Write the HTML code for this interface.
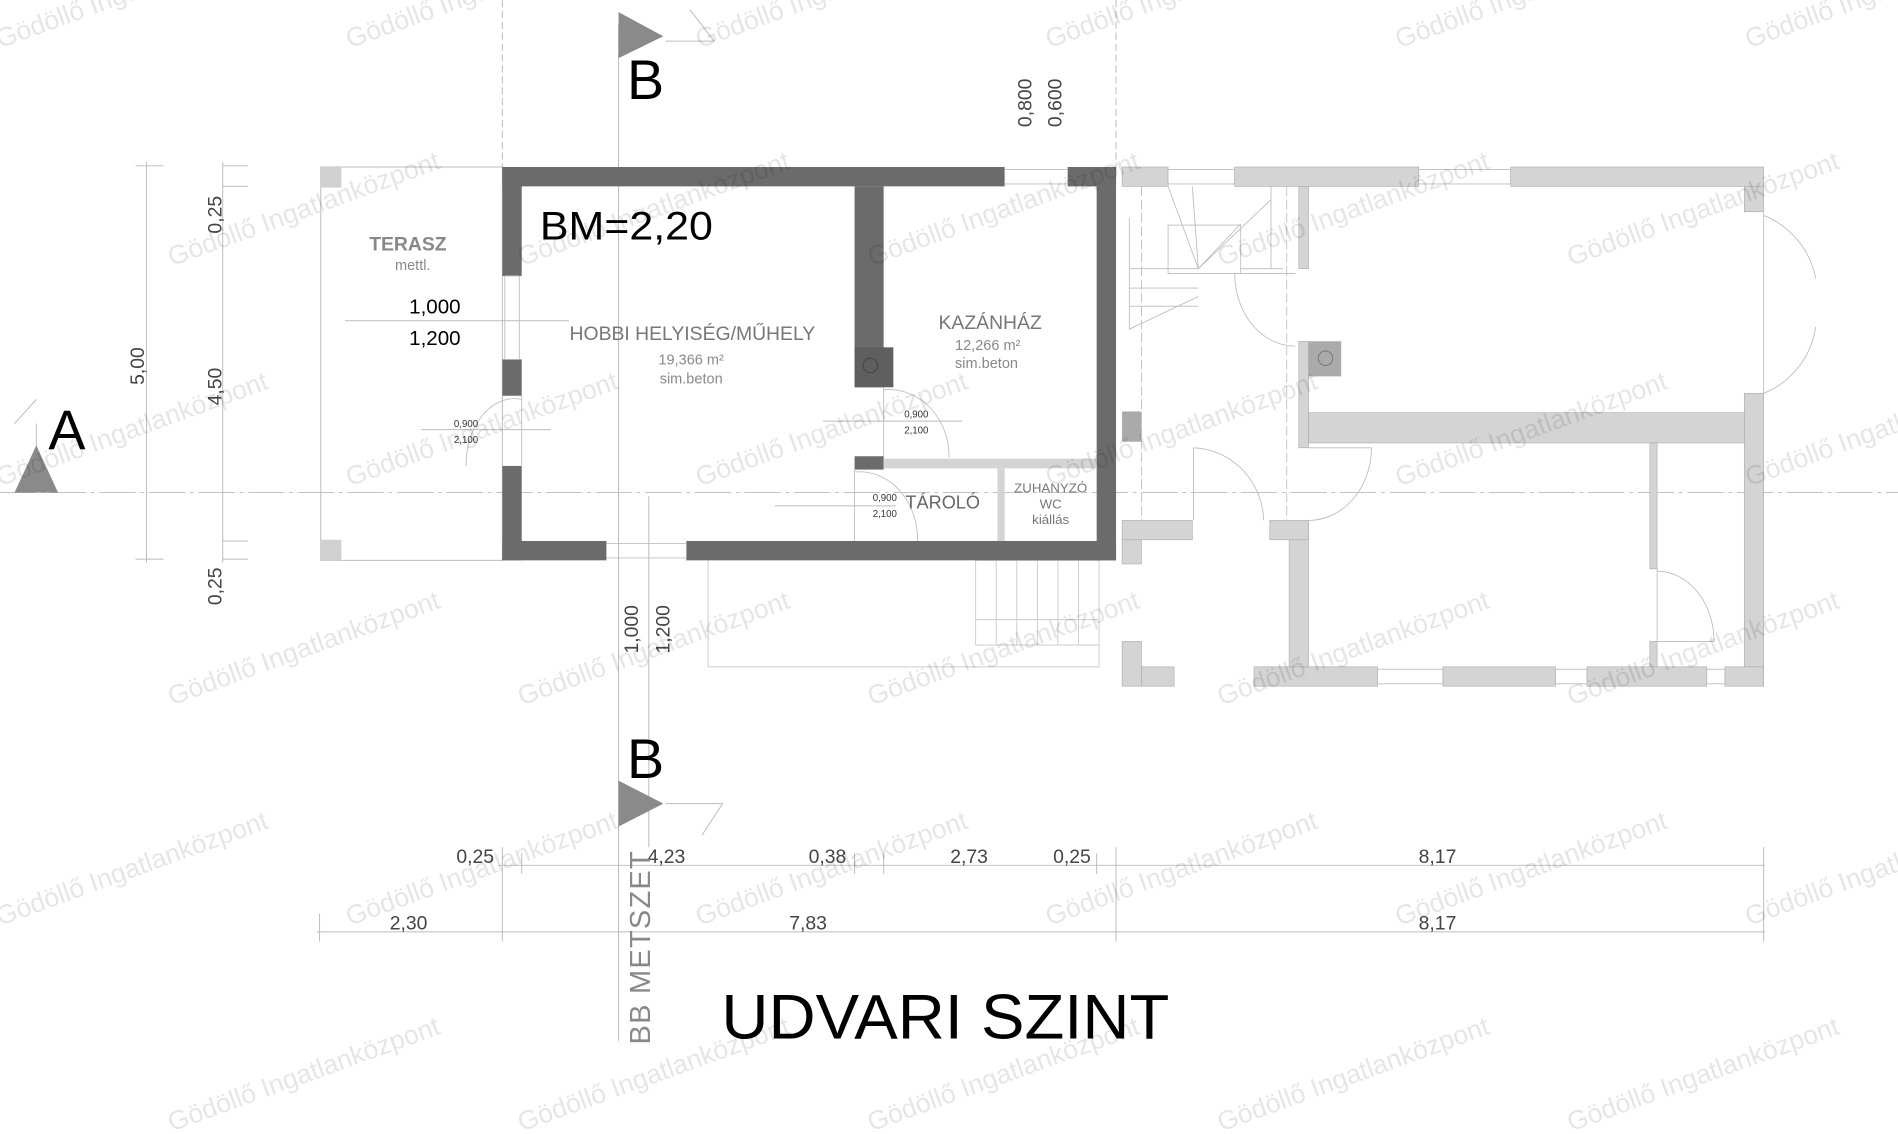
<!DOCTYPE html>
<html><head><meta charset="utf-8"><style>html,body{margin:0;padding:0;background:#fff;overflow:hidden}svg{display:block}text{font-family:"Liberation Sans",sans-serif}</style></head><body>
<svg width="1898" height="1134" viewBox="0 0 1568 937" preserveAspectRatio="none" xmlns="http://www.w3.org/2000/svg">
<rect width="1568" height="937" fill="#fff"/>
<g stroke="#bbb" stroke-width="0.8" fill="none">
<line x1="0" y1="407" x2="1568" y2="407" stroke-dasharray="30 4 3 4"/>
<line x1="415" y1="0" x2="415" y2="138" stroke-dasharray="6 3"/>
<line x1="922" y1="0" x2="922" y2="138" stroke-dasharray="6 3"/>
<line x1="511" y1="20" x2="511" y2="860"/>
<line x1="536" y1="410" x2="536" y2="700"/>
<line x1="30" y1="350" x2="30" y2="380"/>
<line x1="30" y1="330" x2="12" y2="350"/>
<line x1="550" y1="34" x2="590" y2="34"/>
<line x1="570" y1="8" x2="590" y2="34"/>
<line x1="550" y1="664" x2="597" y2="664"/>
<line x1="597" y1="664" x2="580" y2="690"/>
<line x1="121" y1="134" x2="121" y2="465"/>
<line x1="184" y1="134" x2="184" y2="465"/>
<line x1="112" y1="137" x2="135" y2="137"/><line x1="112" y1="462" x2="135" y2="462"/>
<line x1="184" y1="137" x2="205" y2="137"/><line x1="184" y1="154" x2="205" y2="154"/>
<line x1="184" y1="447" x2="205" y2="447"/><line x1="184" y1="462" x2="205" y2="462"/>
<line x1="412" y1="715" x2="1458" y2="715"/>
<line x1="262" y1="770" x2="1458" y2="770"/>
<line x1="264" y1="755" x2="264" y2="778"/><line x1="415" y1="700" x2="415" y2="778"/>
<line x1="922" y1="700" x2="922" y2="778"/><line x1="1457" y1="700" x2="1457" y2="778"/>
<line x1="431" y1="705" x2="431" y2="722"/><line x1="706" y1="705" x2="706" y2="722"/>
<line x1="730" y1="705" x2="730" y2="722"/><line x1="906" y1="705" x2="906" y2="722"/>
<line x1="285" y1="265" x2="470" y2="265"/>
<line x1="348" y1="355" x2="455" y2="355"/>
<line x1="680" y1="348" x2="795" y2="348"/>
<line x1="640" y1="418" x2="740" y2="418"/>
</g>
<rect x="265" y="138" width="150" height="325" fill="none" stroke="#bbb" stroke-width="0.8"/>
<rect x="265" y="138" width="17" height="17" fill="#d0d0d0"/>
<rect x="265" y="446" width="17" height="17" fill="#d0d0d0"/>
<g stroke="#ccc" stroke-width="0.8" fill="none">
<rect x="806" y="463" width="102" height="70"/>
<line x1="823" y1="463" x2="823" y2="533"/><line x1="840" y1="463" x2="840" y2="533"/><line x1="857" y1="463" x2="857" y2="533"/><line x1="874" y1="463" x2="874" y2="533"/><line x1="891" y1="463" x2="891" y2="533"/>
<line x1="806" y1="512" x2="908" y2="512"/>
<polyline points="585,463 585,551 908,551 908,533"/>
</g>
<g fill="#d4d4d4" stroke="#aaa" stroke-width="0.5">
<rect x="927" y="138" width="38" height="16"/><rect x="1020" y="138" width="152" height="16"/><rect x="1248" y="138" width="209" height="16"/>
<rect x="1441" y="154" width="16" height="21"/><rect x="1441" y="325" width="16" height="242"/>
<rect x="1073" y="154" width="8" height="68"/><rect x="1073" y="282" width="8" height="88"/>
<rect x="1081" y="341" width="360" height="25"/>
<rect x="1363" y="366" width="6" height="104"/><rect x="1363" y="530" width="6" height="21"/>
<rect x="1036" y="551" width="102" height="16"/><rect x="1192" y="551" width="93" height="16"/><rect x="1311" y="551" width="99" height="16"/><rect x="1425" y="551" width="32" height="16"/>
<rect x="1065" y="432" width="16" height="119"/><rect x="1049" y="430" width="32" height="16"/>
<rect x="927" y="430" width="58" height="16"/><rect x="927" y="446" width="16" height="20"/>
<rect x="927" y="530" width="16" height="37"/><rect x="943" y="551" width="27" height="16"/>
</g>
<rect x="927" y="340" width="16" height="25" fill="#aaa"/>
<rect x="1081" y="282" width="27" height="29" fill="#aaa"/>
<g stroke="#bbb" stroke-width="0.7" fill="none">
<rect x="965" y="140" width="55" height="12"/><rect x="1172" y="140" width="76" height="12"/>
<rect x="1138" y="553" width="54" height="12"/><rect x="1285" y="553" width="26" height="12"/><rect x="1410" y="553" width="15" height="12"/>
<line x1="943" y1="154" x2="943" y2="430" stroke-dasharray="8 3"/>
<line x1="1063" y1="154" x2="1063" y2="430" stroke-dasharray="8 3"/>
<polyline points="933,180 933,272 990,245"/>
<line x1="933" y1="253" x2="990" y2="253"/><line x1="933" y1="238" x2="990" y2="238"/><line x1="933" y1="222" x2="990" y2="222"/>
<rect x="965" y="186" width="60" height="40"/>
<line x1="990" y1="222" x2="965" y2="154"/><line x1="990" y1="222" x2="985" y2="154"/><line x1="990" y1="222" x2="1050" y2="165"/><line x1="990" y1="222" x2="1025" y2="185"/>
<line x1="1050" y1="154" x2="1050" y2="222"/><line x1="1025" y1="222" x2="1060" y2="222"/>
<path d="M1070 226 L1020 226 A50 60 0 0 0 1070 286"/>
<path d="M986 430 L986 370 A60 62 0 0 1 1044 430"/>
<path d="M1081 370 L1133 370 A52 60 0 0 1 1081 430"/>
<path d="M1369 470 L1369 530 L1416 530 A47 58 0 0 0 1369 472"/>
<path d="M1457 175 L1457 325 M1457 178 A70 70 0 0 1 1500 230 M1457 325 A70 70 0 0 0 1500 270"/>
<path d="M431 327 L431 385 M431 330 A40 55 0 0 0 385 385"/>
<path d="M730 320 L730 378 M730 322 A50 55 0 0 1 784 378"/>
<path d="M706 388 L706 447 M706 390 A48 56 0 0 1 758 447"/>
</g>
<g fill="#6b6b6b">
<rect x="415" y="138" width="415" height="16"/><rect x="882" y="138" width="40" height="16"/>
<rect x="906" y="138" width="16" height="325"/>
<rect x="415" y="138" width="16" height="90"/><rect x="415" y="297" width="16" height="30"/><rect x="415" y="385" width="16" height="78"/>
<rect x="415" y="447" width="86" height="16"/><rect x="567" y="447" width="355" height="16"/>
<rect x="706" y="154" width="24" height="166"/><rect x="706" y="377" width="24" height="11"/>
</g>
<rect x="706" y="287" width="32" height="33" fill="#5f5f5f"/>
<circle cx="719" cy="302" r="6" fill="none" stroke="#444" stroke-width="0.8"/>
<circle cx="1095" cy="296" r="6" fill="none" stroke="#777" stroke-width="0.8"/>
<rect x="730" y="379" width="176" height="8" fill="#d4d4d4"/>
<rect x="824" y="387" width="6" height="60" fill="#d4d4d4"/>
<g stroke="#bbb" stroke-width="0.7" fill="none">
<rect x="830" y="140" width="52" height="12"/><rect x="501" y="449" width="66" height="12"/><rect x="417" y="228" width="12" height="69"/>
</g>
<polygon points="511,10 548,30 511,48" fill="#8a8a8a"/>
<polygon points="511,645 548,664 511,683" fill="#8a8a8a"/>
<polygon points="12,407 48,407 30,368" fill="#8a8a8a"/>
<text x="518" y="82" font-size="46">B</text>
<text x="518" y="643" font-size="46">B</text>
<text x="40" y="371" font-size="46">A</text>
<text x="446" y="198" font-size="33" textLength="143" lengthAdjust="spacingAndGlyphs">BM=2,20</text>
<text x="305" y="207" font-size="16" font-weight="bold" fill="#888">TERASZ</text>
<text x="341" y="223" font-size="12" fill="#888" text-anchor="middle">mettl.</text>
<text x="338" y="259" font-size="17">1,000</text>
<text x="338" y="285" font-size="17">1,200</text>
<text x="572" y="281" font-size="16" fill="#777" text-anchor="middle">HOBBI HELYISÉG/MŰHELY</text>
<text x="571" y="301" font-size="12" fill="#888" text-anchor="middle">19,366 m²</text>
<text x="571" y="317" font-size="12" fill="#888" text-anchor="middle">sim.beton</text>
<text x="818" y="272" font-size="16" fill="#777" text-anchor="middle">KAZÁNHÁZ</text>
<text x="816" y="289" font-size="12" fill="#888" text-anchor="middle">12,266 m²</text>
<text x="815" y="304" font-size="12" fill="#888" text-anchor="middle">sim.beton</text>
<text x="748" y="420" font-size="15" fill="#666">TÁROLÓ</text>
<text x="868" y="407" font-size="11" fill="#777" text-anchor="middle">ZUHANYZÓ</text>
<text x="868" y="420" font-size="11" fill="#777" text-anchor="middle">WC</text>
<text x="868" y="433" font-size="11" fill="#777" text-anchor="middle">kiállás</text>
<g font-size="8" fill="#333">
<text x="375" y="353">0,900</text><text x="375" y="366">2,100</text>
<text x="747" y="345">0,900</text><text x="747" y="358">2,100</text>
<text x="721" y="414">0,900</text><text x="721" y="427">2,100</text>
</g>
<g font-size="16" fill="#444">
<text x="377" y="713">0,25</text><text x="535" y="713">4,23</text><text x="668" y="713">0,38</text><text x="785" y="713">2,73</text><text x="870" y="713">0,25</text><text x="1172" y="713">8,17</text>
<text x="322" y="768">2,30</text><text x="652" y="768">7,83</text><text x="1172" y="768">8,17</text>
</g>
<g font-size="16" fill="#444">
<text transform="translate(183,193) rotate(-90)">0,25</text>
<text transform="translate(183,500) rotate(-90)">0,25</text>
<text transform="translate(119,318) rotate(-90)">5,00</text>
<text transform="translate(183,335) rotate(-90)">4,50</text>
<text transform="translate(852,105) rotate(-90)">0,800</text>
<text transform="translate(877,105) rotate(-90)">0,600</text>
<text transform="translate(527,540) rotate(-90)">1,000</text>
<text transform="translate(553,540) rotate(-90)">1,200</text>
</g>
<text transform="translate(537,863) rotate(-90)" font-size="24" fill="#888" letter-spacing="1">BB METSZET</text>
<text x="596" y="858" font-size="52" textLength="370" lengthAdjust="spacingAndGlyphs">UDVARI SZINT</text>
<g font-size="22" fill="#000" fill-opacity="0.1">
<text transform="translate(0,40) rotate(-20)">Gödöllő Ingatlanközpont</text>
<text transform="translate(289,40) rotate(-20)">Gödöllő Ingatlanközpont</text>
<text transform="translate(578,40) rotate(-20)">Gödöllő Ingatlanközpont</text>
<text transform="translate(867,40) rotate(-20)">Gödöllő Ingatlanközpont</text>
<text transform="translate(1156,40) rotate(-20)">Gödöllő Ingatlanközpont</text>
<text transform="translate(1445,40) rotate(-20)">Gödöllő Ingatlanközpont</text>
<text transform="translate(142,220) rotate(-20)">Gödöllő Ingatlanközpont</text>
<text transform="translate(431,220) rotate(-20)">Gödöllő Ingatlanközpont</text>
<text transform="translate(720,220) rotate(-20)">Gödöllő Ingatlanközpont</text>
<text transform="translate(1009,220) rotate(-20)">Gödöllő Ingatlanközpont</text>
<text transform="translate(1298,220) rotate(-20)">Gödöllő Ingatlanközpont</text>
<text transform="translate(0,402) rotate(-20)">Gödöllő Ingatlanközpont</text>
<text transform="translate(289,402) rotate(-20)">Gödöllő Ingatlanközpont</text>
<text transform="translate(578,402) rotate(-20)">Gödöllő Ingatlanközpont</text>
<text transform="translate(867,402) rotate(-20)">Gödöllő Ingatlanközpont</text>
<text transform="translate(1156,402) rotate(-20)">Gödöllő Ingatlanközpont</text>
<text transform="translate(1445,402) rotate(-20)">Gödöllő Ingatlanközpont</text>
<text transform="translate(142,583) rotate(-20)">Gödöllő Ingatlanközpont</text>
<text transform="translate(431,583) rotate(-20)">Gödöllő Ingatlanközpont</text>
<text transform="translate(720,583) rotate(-20)">Gödöllő Ingatlanközpont</text>
<text transform="translate(1009,583) rotate(-20)">Gödöllő Ingatlanközpont</text>
<text transform="translate(1298,583) rotate(-20)">Gödöllő Ingatlanközpont</text>
<text transform="translate(0,765) rotate(-20)">Gödöllő Ingatlanközpont</text>
<text transform="translate(289,765) rotate(-20)">Gödöllő Ingatlanközpont</text>
<text transform="translate(578,765) rotate(-20)">Gödöllő Ingatlanközpont</text>
<text transform="translate(867,765) rotate(-20)">Gödöllő Ingatlanközpont</text>
<text transform="translate(1156,765) rotate(-20)">Gödöllő Ingatlanközpont</text>
<text transform="translate(1445,765) rotate(-20)">Gödöllő Ingatlanközpont</text>
<text transform="translate(142,935) rotate(-20)">Gödöllő Ingatlanközpont</text>
<text transform="translate(431,935) rotate(-20)">Gödöllő Ingatlanközpont</text>
<text transform="translate(720,935) rotate(-20)">Gödöllő Ingatlanközpont</text>
<text transform="translate(1009,935) rotate(-20)">Gödöllő Ingatlanközpont</text>
<text transform="translate(1298,935) rotate(-20)">Gödöllő Ingatlanközpont</text>
</g>
</svg>
</body></html>
